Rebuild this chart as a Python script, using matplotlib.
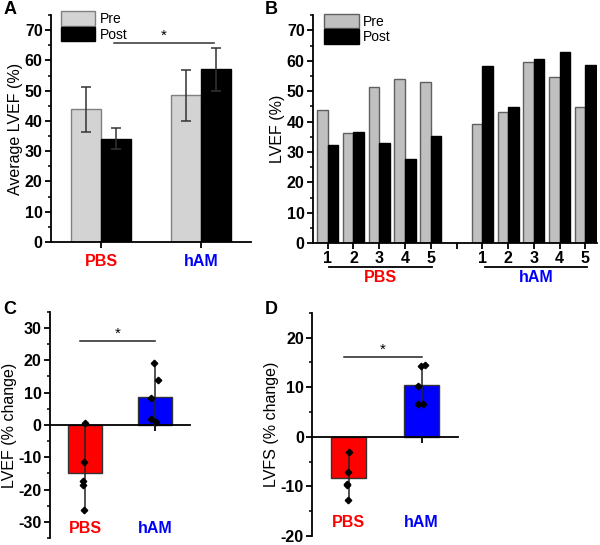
import numpy as np
import matplotlib
matplotlib.use("Agg")
from matplotlib import pyplot as plt
from matplotlib.patches import Patch
from matplotlib.ticker import MultipleLocator

plt.rcParams['font.family'] = ['Liberation Sans', 'DejaVu Sans']
plt.rcParams['axes.unicode_minus'] = False
plt.rcParams['axes.linewidth'] = 1.3

# panel A: average LVEF
groups = ['PBS', 'hAM']
group_colors = ['#ff0000', '#0000ff']
avg_pre = [43.8, 48.4]
avg_pre_err = [7.5, 8.4]
avg_post = [34.1, 57.1]
avg_post_err = [3.4, 7.1]

# panel B: LVEF per animal
animal_labels = ['1', '2', '3', '4', '5']
pbs_pre = [43.7, 36.1, 51.3, 54.0, 52.9]
pbs_post = [32.2, 36.5, 32.8, 27.8, 35.4]
ham_pre = [39.3, 43.0, 59.6, 54.6, 44.7]
ham_post = [58.3, 44.7, 60.6, 62.8, 58.7]

# panel C: LVEF % change
lvef_pbs_pts = [0.5, -11.5, -17.3, -18.5, -26.2]
lvef_ham_pts = [19.0, 13.9, 8.3, 1.7, 1.0]
lvef_mean = [-14.7, 8.7]
lvef_lo = [-26.2, -0.5]
lvef_hi = [0.5, 19.0]

# panel D: LVFS % change
lvfs_pbs_pts = [-3.1, -7.0, -9.5, -9.8, -12.7]
lvfs_ham_pts = [14.3, 14.5, 10.3, 6.6, 6.6]
lvfs_mean = [-8.4, 10.5]
lvfs_lo = [-12.7, 6.6]
lvfs_hi = [-3.1, 14.5]

pbs_jitter = [0.0, -0.01, -0.03, -0.025, -0.01]
ham_jitter = [-0.01, 0.05, -0.05, -0.05, 0.02]

fig = plt.figure(figsize=(6.0, 5.45), dpi=100)

tick_kw = dict(labelsize=11.5, width=1.3, length=4, direction='out', pad=2)


def style_axis(ax):
    ax.spines['top'].set_visible(False)
    ax.spines['right'].set_visible(False)
    ax.tick_params(axis='both', which='major', **tick_kw)
    ax.tick_params(axis='y', which='minor', width=1.1, length=2.5)
    for lab in ax.get_yticklabels():
        lab.set_fontweight('bold')


# ---------------- A ----------------
axA = fig.add_axes([0.085, 0.556, 0.333, 0.4165])
x = np.arange(len(groups))
w = 0.3
axA.bar(x - w / 2, avg_pre, w, color='#d3d3d3', edgecolor='#808080', linewidth=1.0,
        yerr=avg_pre_err, capsize=3.5, error_kw=dict(ecolor='#333333', elinewidth=1.1, capthick=1.1))
axA.bar(x + w / 2, avg_post, w, color='black', edgecolor='black', linewidth=1.0,
        yerr=avg_post_err, capsize=3.5, error_kw=dict(ecolor='#333333', elinewidth=1.1, capthick=1.1))
axA.set_xlim(-0.5, 1.5)
axA.set_ylim(0, 75)
axA.yaxis.set_major_locator(MultipleLocator(10))
axA.yaxis.set_minor_locator(MultipleLocator(5))
axA.set_xticks(x)
axA.set_xticklabels(groups)
style_axis(axA)
axA.tick_params(axis='x', pad=5)
for lab, c in zip(axA.get_xticklabels(), group_colors):
    lab.set_color(c)
    lab.set_fontweight('bold')
    lab.set_fontsize(11.5)
axA.set_ylabel('Average LVEF (%)', fontsize=11.5, labelpad=1)
axA.plot([0.13, 1.13], [65.8, 65.8], color='#333333', lw=1.1)
axA.text(0.63, 65.8, '*', ha='center', va='bottom', fontsize=11)
axA.legend(handles=[Patch(facecolor='#d3d3d3', edgecolor='#808080', label='Pre'),
                    Patch(facecolor='black', edgecolor='black', label='Post')],
           loc='upper left', bbox_to_anchor=(0.02, 1.04), frameon=False, fontsize=10,
           handlelength=2.5, handleheight=1.2, handletextpad=0.3, labelspacing=0.05,
           borderaxespad=0.0)

# ---------------- B ----------------
axB = fig.add_axes([0.5217, 0.554, 0.473, 0.418])
pos_pbs = np.arange(1, 6)
pos_ham = np.arange(7, 12)
bw = 0.41
for pos, pre, post in [(pos_pbs, pbs_pre, pbs_post), (pos_ham, ham_pre, ham_post)]:
    axB.bar(pos - bw / 2, pre, bw, color='#c0c0c0', edgecolor='#606060', linewidth=1.0)
    axB.bar(pos + bw / 2, post, bw, color='black', edgecolor='black', linewidth=1.0)
axB.set_xlim(0.43, 11.44)
axB.set_ylim(0, 75)
axB.yaxis.set_major_locator(MultipleLocator(10))
axB.yaxis.set_minor_locator(MultipleLocator(5))
axB.set_xticks(list(pos_pbs) + [6] + list(pos_ham))
axB.set_xticklabels(animal_labels + [''] + animal_labels)
style_axis(axB)
for lab in axB.get_xticklabels():
    lab.set_fontweight('bold')
axB.set_ylabel('LVEF (%)', fontsize=11.5, labelpad=1)
tr = axB.get_xaxis_transform()
for (a, b), name, c in zip([(1.05, 5.04), (7.11, 11.07)], groups, group_colors):
    axB.plot([a, b], [-0.104, -0.104], color='black', lw=1.3, transform=tr, clip_on=False)
    axB.text((a + b) / 2, -0.152, name, color=c, fontweight='bold', fontsize=11.5,
             ha='center', va='center', transform=tr)
axB.legend(handles=[Patch(facecolor='#c0c0c0', edgecolor='#606060', label='Pre'),
                    Patch(facecolor='black', edgecolor='black', label='Post')],
           loc='upper left', bbox_to_anchor=(0.02, 1.03), frameon=False, fontsize=10,
           handlelength=2.5, handleheight=1.2, handletextpad=0.3, labelspacing=0.05,
           borderaxespad=0.0)


# ---------------- C & D ----------------
def change_panel(ax, means, lo, hi, pbs_pts, ham_pts, ylim, ystep, label, sig_y, lab_y):
    xs = np.array([1, 2])
    ax.bar(xs, means, 0.48, color=group_colors, edgecolor='#333333', linewidth=1.0, zorder=2)
    for xi, l, h in zip(xs, lo, hi):
        ax.plot([xi, xi], [l, h], color='#222222', lw=1.1, zorder=3)
    ax.plot(1 + np.array(pbs_jitter), pbs_pts, 'D', color='black', ms=3.3, zorder=4)
    ax.plot(2 + np.array(ham_jitter), ham_pts, 'D', color='black', ms=3.3, zorder=4)
    ax.set_xlim(0.5, 2.5)
    ax.set_ylim(*ylim)
    ax.yaxis.set_major_locator(MultipleLocator(ystep))
    ax.yaxis.set_minor_locator(MultipleLocator(ystep / 2))
    ax.spines['bottom'].set_position(('data', 0))
    ax.set_xticks(xs)
    ax.set_xticklabels(['', ''])
    style_axis(ax)
    ax.set_ylabel(label, fontsize=11.5, labelpad=1)
    ax.plot([0.93, 2.0], [sig_y, sig_y], color='#222222', lw=1.1)
    ax.text(1.47, sig_y, '*', ha='center', va='bottom', fontsize=11)
    for xi, name, c in zip(xs, groups, group_colors):
        ax.text(xi, lab_y, name, color=c, fontweight='bold', fontsize=11.5, ha='center', va='center')


axC = fig.add_axes([0.0833, 0.0125, 0.2333, 0.4155])
change_panel(axC, lvef_mean, lvef_lo, lvef_hi, lvef_pbs_pts, lvef_ham_pts,
             (-35, 35), 10, 'LVEF (% change)', 25.9, -32.0)

axD = fig.add_axes([0.5205, 0.0165, 0.243, 0.4095])
change_panel(axD, lvfs_mean, lvfs_lo, lvfs_hi, lvfs_pbs_pts, lvfs_ham_pts,
             (-20, 25), 10, 'LVFS (% change)', 16.1, -17.3)

# panel letters
for s, (px, py) in zip('ABCD', [(4, 10), (265, 10), (3, 310), (265, 310)]):
    fig.text(px / 600, 1 - py / 545, s, fontsize=13, fontweight='bold', ha='left', va='center')

fig.savefig('out.png', dpi=100)
